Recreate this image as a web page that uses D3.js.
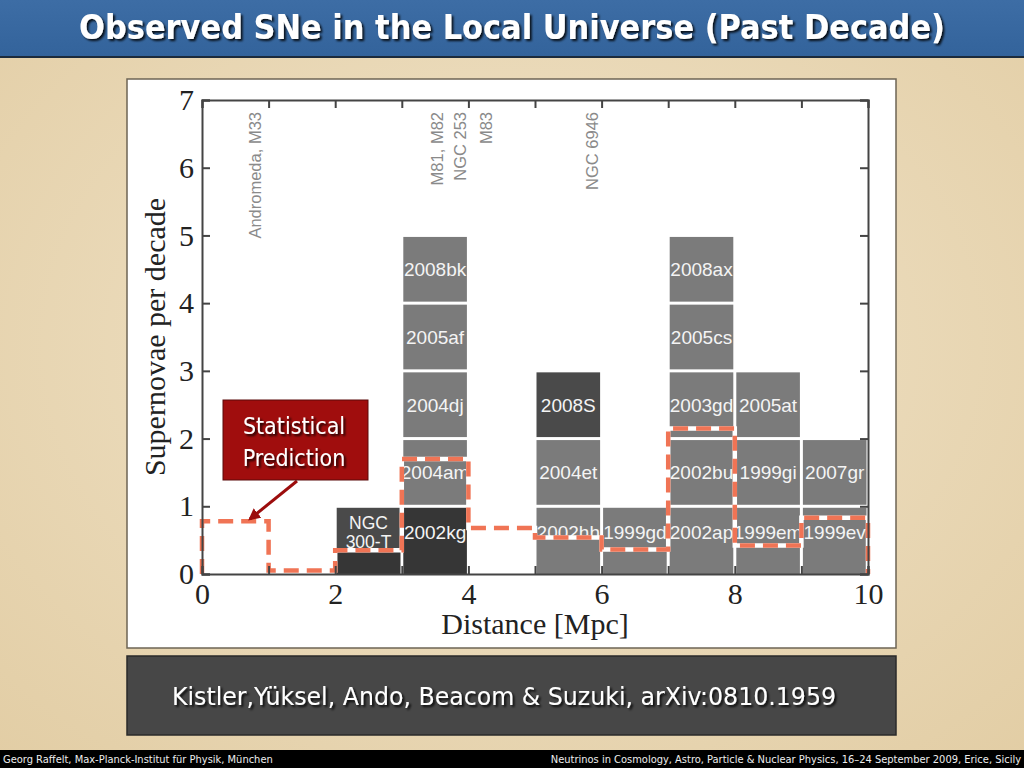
<!DOCTYPE html>
<html>
<head>
<meta charset="utf-8">
<script src="https://cdn.jsdelivr.net/npm/d3@7"></script>
<style>
  body { margin: 0; background: #e9d8b6; }
  svg { display: block; }
</style>
</head>
<body>
<svg id="slide" width="1024" height="768"></svg>
<script>
// supernovae per 1 Mpc distance bin, stacked one block per SN (bottom first)
const binStart = [2, 3, 5, 6, 7, 8, 9];
const snNames = [
  ['NGC\n300-T'],
  ['2002kg', '2004am', '2004dj', '2005af', '2008bk'],
  ['2002hh', '2004et', '2008S'],
  ['1999gd'],
  ['2002ap', '2002bu', '2003gd', '2005cs', '2008ax'],
  ['1999em', '1999gi', '2005at'],
  ['1999ev', '2007gr']
];
const darkSN = ['2002kg'];
const impostorSN = ['NGC\n300-T', '2008S'];

// statistical prediction, per bin 0-1 ... 9-10 Mpc
const predBins = [0, 1, 2, 3, 4, 5, 6, 7, 8, 9];
const predValues = [0.78, 0.05, 0.35, 1.70, 0.68, 0.54, 0.36, 2.15, 0.42, 0.83];

// nearby galaxies marked at the top
const galaxyNames = ['Andromeda, M33', 'M81, M82', 'NGC 253', 'M83', 'NGC 6946'];
const galaxyDist = [0.80, 3.53, 3.87, 4.27, 5.86];

const xTicks = [0, 1, 2, 3, 4, 5, 6, 7, 8, 9, 10];
const yTicks = [0, 1, 2, 3, 4, 5, 6, 7];

const svg = d3.select('#slide');

// slide background
const defs = svg.append('defs');
const bg = defs.append('radialGradient').attr('id', 'bg').attr('cx', '50%').attr('cy', '45%').attr('r', '75%');
bg.append('stop').attr('offset', '0%').attr('stop-color', '#f1e4ca');
bg.append('stop').attr('offset', '100%').attr('stop-color', '#e2cda4');
const tb = defs.append('linearGradient').attr('id', 'tb').attr('x1', 0).attr('y1', 0).attr('x2', 0).attr('y2', 1);
tb.append('stop').attr('offset', '0%').attr('stop-color', '#3d6da5');
tb.append('stop').attr('offset', '100%').attr('stop-color', '#33639b');
const sh = defs.append('filter').attr('id', 'shadow').attr('x', '-5%').attr('y', '-20%').attr('width', '110%').attr('height', '140%');
sh.append('feDropShadow').attr('dx', 2).attr('dy', 2).attr('stdDeviation', 0.8).attr('flood-color', '#000').attr('flood-opacity', 0.85);

svg.append('rect').attr('width', 1024).attr('height', 768).style('fill', 'url(#bg)');

// title bar
svg.append('rect').attr('width', 1024).attr('height', 57).style('fill', 'url(#tb)');
svg.append('rect').attr('y', 56).attr('width', 1024).attr('height', 2).style('fill', '#1c2b3c');
svg.append('text')
  .attr('x', 512).attr('y', 39)
  .attr('text-anchor', 'middle')
  .attr('textLength', 866).attr('lengthAdjust', 'spacingAndGlyphs')
  .style('font-family', 'DejaVu Sans Condensed').style('font-weight', 'bold')
  .style('font-size', '33px').style('fill', '#fff')
  .attr('filter', 'url(#shadow)')
  .text('Observed SNe in the Local Universe (Past Decade)');

// white figure panel
svg.append('rect').attr('x', 127).attr('y', 79).attr('width', 769).attr('height', 569)
  .style('fill', '#fff').style('stroke', '#6d6454').style('stroke-width', 1.5);

const x = d3.scaleLinear().domain([0, 10]).range([202, 868]);
const y = d3.scaleLinear().domain([0, 7]).range([574, 100]);

const plot = svg.append('g');

// stacked SN blocks
const blocks = [];
binStart.forEach((b, i) => {
  snNames[i].forEach((name, level) => blocks.push({ bin: b, level: level, name: name }));
});

blocks.forEach((d, i) => {
  const x0 = x(d.bin) + 1.5, x1 = x(d.bin + 1) - 1.5;
  const y0 = y(d.level + 1) + 1.5, y1 = y(d.level) - (d.level === 0 ? 0 : 1.5);
  const col = darkSN.includes(d.name) ? '#363636' : impostorSN.includes(d.name) ? '#4a4a4a' : '#7b7b7b';
  defs.append('clipPath').attr('id', 'clip' + i)
    .append('rect').attr('x', x0).attr('y', y0).attr('width', x1 - x0).attr('height', y1 - y0);
  plot.append('rect')
    .attr('x', x0).attr('y', y0).attr('width', x1 - x0).attr('height', y1 - y0)
    .style('fill', col);
  const lines = d.name.split('\n');
  const cy = d.level === 0 ? y(0.62) : y(d.level + 0.5);
  const t = plot.append('text')
    .attr('clip-path', 'url(#clip' + i + ')')
    .attr('x', (x0 + x1) / 2).attr('y', cy - (lines.length - 1) * 9)
    .attr('text-anchor', 'middle')
    .style('font-family', 'Liberation Sans, Arial, sans-serif')
    .style('font-size', lines.length > 1 ? '17.5px' : '19px')
    .style('fill', '#f4f4f4');
  lines.forEach((l, k) => t.append('tspan').attr('x', (x0 + x1) / 2).attr('dy', k === 0 ? '0.36em' : '1.05em').text(l));
});

// darker bottom of NGC 300-T block under the prediction line
plot.append('rect')
  .attr('x', x(2) + 1.5).attr('y', y(predValues[2])).attr('width', x(3) - x(2) - 3).attr('height', y(0) - y(predValues[2]))
  .style('fill', '#363636');

// prediction step line
const stepPts = [[0, 0]];
predBins.forEach((b, i) => {
  stepPts.push([b, predValues[i]]);
  stepPts.push([b + 1, predValues[i]]);
});
stepPts.push([10, 0]);
const stepLine = d3.line().x(d => x(d[0])).y(d => y(d[1]));
plot.append('path').attr('d', stepLine(stepPts))
  .style('fill', 'none').style('stroke', '#fff').style('stroke-width', 4.5);
plot.append('path').attr('d', stepLine(stepPts))
  .style('fill', 'none').style('stroke', '#f07455').style('stroke-width', 4.5)
  .style('stroke-dasharray', '15,8');

// galaxy labels
galaxyNames.forEach((g, i) => {
  plot.append('text')
    .attr('transform', 'translate(' + x(galaxyDist[i]) + ',' + 112 + ') rotate(-90)')
    .attr('text-anchor', 'end').attr('dy', '0.36em')
    .style('font-family', 'Liberation Sans, Arial, sans-serif')
    .style('font-size', '16.5px').style('fill', '#8a8a8a')
    .text(g);
});

// axes
const tickFont = g => g.selectAll('text')
  .style('font-family', 'Liberation Serif, Times New Roman, serif')
  .style('font-size', '30px').style('fill', '#222');
const axisStyle = g => {
  g.select('.domain').style('stroke', '#444').style('stroke-width', 2);
  g.selectAll('.tick line').style('stroke', '#444').style('stroke-width', 2);
};

svg.append('g').attr('transform', 'translate(0,' + y(0) + ')')
  .call(d3.axisBottom(x).tickValues(xTicks).tickSize(-8).tickPadding(9).tickFormat(d => d % 2 ? '' : d))
  .call(axisStyle).call(tickFont);
svg.append('g').attr('transform', 'translate(0,' + y(7) + ')')
  .call(d3.axisTop(x).tickValues(xTicks).tickSize(-8).tickFormat(''))
  .call(axisStyle);
svg.append('g').attr('transform', 'translate(' + x(0) + ',0)')
  .call(d3.axisLeft(y).tickValues(yTicks).tickSize(-8).tickPadding(8).tickFormat(d3.format('d')))
  .call(axisStyle).call(tickFont);
svg.append('g').attr('transform', 'translate(' + x(10) + ',0)')
  .call(d3.axisRight(y).tickValues(yTicks).tickSize(-8).tickFormat(''))
  .call(axisStyle);
svg.selectAll('.domain').style('fill', 'none');

svg.append('text')
  .attr('x', (x(0) + x(10)) / 2).attr('y', 634)
  .attr('text-anchor', 'middle')
  .style('font-family', 'Liberation Serif, Times New Roman, serif')
  .style('font-size', '30px').style('fill', '#222')
  .text('Distance [Mpc]');
svg.append('text')
  .attr('transform', 'translate(165,' + y(3.5) + ') rotate(-90)')
  .attr('text-anchor', 'middle')
  .style('font-family', 'Liberation Serif, Times New Roman, serif')
  .style('font-size', '30px').style('fill', '#222')
  .text('Supernovae per decade');

// annotation box + arrow
defs.append('marker').attr('id', 'arrow').attr('viewBox', '0 0 10 10')
  .attr('refX', 8).attr('refY', 5).attr('markerWidth', 4).attr('markerHeight', 4)
  .attr('orient', 'auto')
  .append('path').attr('d', 'M0,0 L10,5 L0,10 z').style('fill', '#9c0d0d');
svg.append('line')
  .attr('x1', 297).attr('y1', 481).attr('x2', 250).attr('y2', 519)
  .style('stroke', '#9c0d0d').style('stroke-width', 3).attr('marker-end', 'url(#arrow)');
svg.append('rect').attr('x', 223).attr('y', 400).attr('width', 145).attr('height', 80)
  .style('fill', '#a00d0d').style('stroke', '#5a0a0a').style('stroke-width', 1);
['Statistical', 'Prediction'].forEach((s, i) => {
  svg.append('text')
    .attr('x', 294).attr('y', 434 + i * 32)
    .attr('text-anchor', 'middle')
    .style('font-family', 'DejaVu Sans Condensed, sans-serif')
    .style('font-size', '23px').style('fill', '#fff')
    .attr('filter', 'url(#shadow)')
    .text(s);
});

// citation box
svg.append('rect').attr('x', 127).attr('y', 656).attr('width', 769).attr('height', 79)
  .style('fill', '#474747').style('stroke', '#2a2a2a').style('stroke-width', 1.5);
svg.append('text')
  .attr('x', 504).attr('y', 705)
  .attr('text-anchor', 'middle')
  .attr('textLength', 664).attr('lengthAdjust', 'spacingAndGlyphs')
  .style('font-family', 'DejaVu Sans Condensed, sans-serif')
  .style('font-size', '24px').style('fill', '#fff')
  .attr('filter', 'url(#shadow)')
  .text('Kistler,Yüksel, Ando, Beacom & Suzuki, arXiv:0810.1959');

// footer
svg.append('rect').attr('y', 750).attr('width', 1024).attr('height', 18).style('fill', '#000');
svg.append('text').attr('x', 3).attr('y', 763)
  .style('font-family', 'DejaVu Sans Condensed, sans-serif').style('font-size', '11px').style('fill', '#eee')
  .text('Georg Raffelt, Max-Planck-Institut für Physik, München');
svg.append('text').attr('x', 1021).attr('y', 763).attr('text-anchor', 'end')
  .style('font-family', 'DejaVu Sans Condensed, sans-serif').style('font-size', '11px').style('fill', '#eee')
  .text('Neutrinos in Cosmology, Astro, Particle & Nuclear Physics, 16–24 September 2009, Erice, Sicily');
</script>
</body>
</html>
